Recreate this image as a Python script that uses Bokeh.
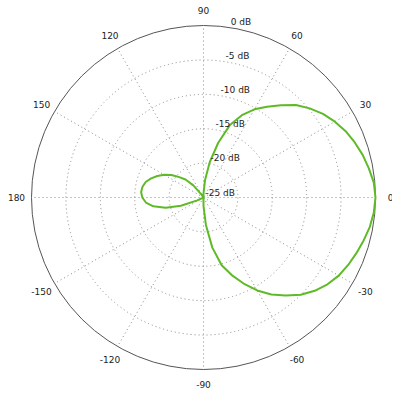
import numpy as np
from bokeh.plotting import figure
from bokeh.models import Range1d
from bokeh.core.properties import value
from bokeh.embed import file_html
from bokeh.resources import INLINE

# ---- data -------------------------------------------------------------
angles_deg = list(range(-180, 181, 5))
pattern_db = [
    -16.1, -16.6, -17.6, -19.3, -21.5, -24.0, -25, -25, -25, -25,   # -180..-135
    -25, -25, -25, -25, -25, -25, -25, -25, -23.8, -21.0,           # -130..-85
    -17.6, -14.8, -13.0, -11.2, -9.4, -7.8, -6.4, -5.0, -3.9, -3.0, # -80..-35
    -2.3, -1.8, -1.35, -0.9, -0.45, -0.15, 0.0, -0.15, -0.6, -1.05, # -30..15
    -1.6, -2.2, -2.95, -3.8, -4.85, -6.0, -7.5, -8.9, -10.2, -11.8, # 20..65
    -13.8, -16.8, -19.8, -22.5, -24.4, -25, -25, -25, -25, -25,     # 70..115
    -25, -24.5, -22.7, -21.3, -20.4, -19.3, -18.4, -17.6, -16.9,    # 120..160
    -16.3, -16.0, -15.9, -16.1,                                     # 165..180
]
ring_db = [0, -5, -10, -15, -20, -25]
ring_labels = ["0 dB", "-5 dB", "-10 dB", "-15 dB", "-20 dB", "-25 dB"]
spoke_deg = [0, 30, 60, 90, 120, 150, 180, -150, -120, -90, -60, -30]
spoke_labels = ["0", "30", "60", "90", "120", "150", "180", "-150", "-120", "-90", "-60", "-30"]

DB_MIN, DB_MAX = -25.0, 0.0
SPAN = DB_MAX - DB_MIN


def radius(db):
    return np.clip(np.asarray(db, dtype=float), DB_MIN, DB_MAX) - DB_MIN


# ---- figure -------------------------------------------------------------
W, H = 392, 392
CX, CY = 203, 197          # centre of the polar plot, pixels
PX = SPAN / 172.0          # data units per pixel
p = figure(width=W, height=H,
           x_range=Range1d(-CX * PX, (W - CX) * PX),
           y_range=Range1d(-(H - CY) * PX, CY * PX),
           output_backend="svg", toolbar_location=None, min_border=0)
p.axis.visible = False
p.grid.visible = False
p.outline_line_color = None
p.background_fill_color = "white"
p.border_fill_color = "white"

FONT = value("DejaVu Sans")

# dotted rings
inner = radius(ring_db[1:-1])
p.circle(x=[0] * len(inner), y=[0] * len(inner), radius=list(inner),
         fill_color=None, line_color="#8a8a8a", line_dash="1 3", line_width=1)

# dotted spokes
th = np.deg2rad(spoke_deg)
p.segment(x0=np.zeros(len(th)), y0=np.zeros(len(th)),
          x1=SPAN * np.cos(th), y1=SPAN * np.sin(th),
          line_color="#8a8a8a", line_dash="1 3", line_width=1)

# outer ring
p.circle(x=[0], y=[0], radius=[SPAN], fill_color=None,
         line_color="#555555", line_width=1)

# pattern
a = np.deg2rad(angles_deg)
r = radius(pattern_db)
p.line(x=r * np.cos(a), y=r * np.sin(a), line_color="#5fba28", line_width=2)

# angle labels
lr = SPAN + 15 * PX
p.text(x=lr * np.cos(th), y=lr * np.sin(th), text=spoke_labels,
       text_font=FONT, text_font_size="9px", text_color="#222222",
       text_align="center", text_baseline="middle")

# dB ring labels
la = np.deg2rad(81.6)
rr = radius(ring_db)
p.text(x=rr * np.cos(la), y=rr * np.sin(la), text=ring_labels,
       text_font=FONT, text_font_size="9px", text_color="#222222",
       text_align="left", text_baseline="bottom", x_offset=2, y_offset=0)

open("out.html", "w").write(file_html(p, INLINE))
